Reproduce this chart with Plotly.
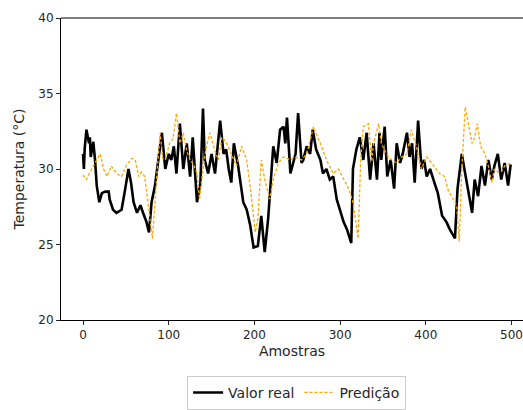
import plotly.graph_objects as go

# Measured temperature (real value) – sample index and °C
real_idx = [0, 1, 2, 4, 7, 8, 9, 12, 14, 16, 19, 22, 26, 30, 31, 35, 39, 45, 49, 53,
            56, 59, 63, 67, 70, 74, 77, 80, 84, 88, 92, 96, 100, 103, 106, 109, 113, 117, 121, 125,
            128, 133, 137, 140, 142, 146, 150, 154, 160, 164, 167, 170, 173, 176, 181, 187, 191, 195, 199, 204,
            208, 212, 216, 222, 226, 230, 234, 236, 238, 242, 245, 248, 251, 255, 257, 261, 265, 268, 272, 277,
            280, 284, 288, 292, 296, 300, 304, 308, 313, 315, 319, 323, 327, 331, 335, 339, 343, 346, 348, 352,
            355, 359, 363, 366, 370, 373, 378, 381, 384, 387, 391, 395, 398, 401, 405, 410, 414, 419, 424, 428,
            434, 437, 442, 445, 450, 454, 457, 461, 465, 469, 473, 477, 480, 484, 488, 492, 496, 499]
real_val = [31.0, 30.0, 31.4, 32.6, 31.7, 32.1, 30.8, 31.8, 30.6, 28.9, 27.8, 28.4, 28.5, 28.5, 28.0, 27.3, 27.1, 27.3, 28.6, 30.0,
            29.1, 27.8, 27.1, 27.6, 27.1, 26.5, 25.8, 27.8, 28.9, 30.6, 32.4, 30.0, 31.0, 30.6, 31.5, 29.7, 33.0, 30.0, 31.7, 29.5,
            32.1, 27.8, 29.1, 34.0, 30.6, 29.7, 31.0, 29.7, 33.2, 31.0, 31.3, 30.0, 29.1, 31.7, 30.2, 27.8, 27.3, 26.3, 24.8, 24.9,
            26.9, 24.5, 26.7, 31.5, 30.4, 32.6, 32.8, 31.7, 33.4, 29.7, 30.4, 31.0, 33.7, 30.4, 30.6, 31.5, 31.0, 32.6, 31.3, 30.6,
            29.7, 30.0, 29.3, 29.5, 28.0, 27.3, 26.5, 26.0, 25.1, 30.0, 31.3, 32.1, 30.6, 32.4, 29.3, 31.7, 29.3, 32.4, 30.6, 32.8,
            29.5, 30.6, 28.7, 31.7, 30.4, 31.0, 32.4, 30.8, 31.7, 29.1, 33.2, 30.0, 30.6, 29.5, 30.0, 29.1, 28.4, 26.9, 26.5, 26.0,
            25.4, 28.7, 31.0, 30.0, 28.4, 27.1, 29.3, 28.2, 30.2, 28.9, 30.6, 29.3, 30.2, 31.0, 29.3, 30.4, 28.9, 30.3]

# Model prediction – sample index and °C
pred_idx = [0, 4, 10, 14, 20, 24, 28, 33, 39, 45, 51, 57, 61, 65, 68, 72, 76, 81, 86, 90,
            93, 96, 101, 105, 109, 113, 117, 121, 125, 129, 133, 136, 140, 144, 148, 154, 158, 162, 167, 171,
            175, 179, 185, 191, 196, 201, 204, 208, 212, 218, 222, 228, 234, 242, 247, 255, 261, 269, 273, 277,
            284, 292, 298, 304, 310, 315, 318, 321, 324, 327, 333, 337, 339, 345, 348, 354, 360, 366, 372, 378,
            383, 389, 395, 401, 408, 416, 422, 426, 432, 436, 439, 442, 446, 450, 454, 457, 460, 464, 469, 473,
            477, 480, 484, 488, 492, 499]
pred_val = [29.6, 29.3, 30.0, 30.4, 31.0, 30.0, 29.5, 30.2, 29.7, 29.5, 30.3, 30.7, 30.6, 29.5, 29.8, 29.5, 27.8, 25.4, 29.5, 32.4,
            30.7, 30.6, 31.7, 32.0, 33.7, 31.7, 32.4, 31.2, 30.6, 30.3, 29.7, 28.0, 30.0, 31.5, 32.4, 31.2, 30.6, 32.1, 31.8, 31.3,
            30.8, 30.2, 31.5, 30.6, 28.4, 25.8, 26.7, 30.6, 29.3, 28.0, 29.3, 30.4, 30.8, 30.6, 30.8, 30.6, 31.0, 32.8, 32.2, 31.7,
            30.6, 29.7, 30.0, 29.3, 28.7, 27.8, 26.7, 25.4, 30.6, 32.8, 33.0, 30.5, 31.7, 33.0, 31.7, 31.0, 30.6, 30.4, 30.8, 31.0,
            32.6, 31.5, 30.0, 30.8, 30.3, 29.7, 29.5, 28.6, 28.0, 27.6, 25.2, 30.0, 34.1, 32.8, 31.7, 32.1, 33.0, 31.5, 31.0, 30.2,
            29.1, 30.0, 29.8, 29.8, 30.2, 30.4]

x_ticks = [0, 100, 200, 300, 400, 500]
y_ticks = [20, 25, 30, 35, 40]

FONT = "DejaVu Sans"
TEXT = "#262626"

fig = go.Figure()
fig.add_trace(go.Scatter(
    x=real_idx, y=real_val, mode="lines", name="Valor real",
    line=dict(color="black", width=2.6),
))
fig.add_trace(go.Scatter(
    x=pred_idx, y=pred_val, mode="lines", name="Predição",
    line=dict(color="#FFA500", width=1.3, dash="3px,2px"),
))

fig.update_layout(
    width=523, height=410,
    margin=dict(l=61, r=0, t=18, b=86),
    paper_bgcolor="white", plot_bgcolor="white",
    font=dict(family=FONT, size=12, color=TEXT),
    showlegend=True,
    legend=dict(
        orientation="h", x=0.51, xanchor="center", y=-0.185, yanchor="top",
        bordercolor="#cccccc", borderwidth=1, font=dict(size=14, color=TEXT),
        itemwidth=30,
    ),
    xaxis=dict(
        range=[-25.7, 513.4], tickvals=x_ticks, ticks="outside", ticklen=4,
        tickcolor=TEXT, showline=True, linecolor="black", linewidth=1,
        showgrid=False, zeroline=False, title=dict(text="Amostras", standoff=4),
    ),
    yaxis=dict(
        range=[20, 40], tickvals=y_ticks, ticks="outside", ticklen=4,
        tickcolor=TEXT, showline=True, linecolor="black", linewidth=1,
        showgrid=False, zeroline=False, title=dict(text="Temperatura (°C)", standoff=10),
    ),
    shapes=[dict(type="line", xref="paper", yref="paper", x0=0, x1=1, y0=1, y1=1,
                 line=dict(color="black", width=1))],
)

fig.write_html("out.html")
